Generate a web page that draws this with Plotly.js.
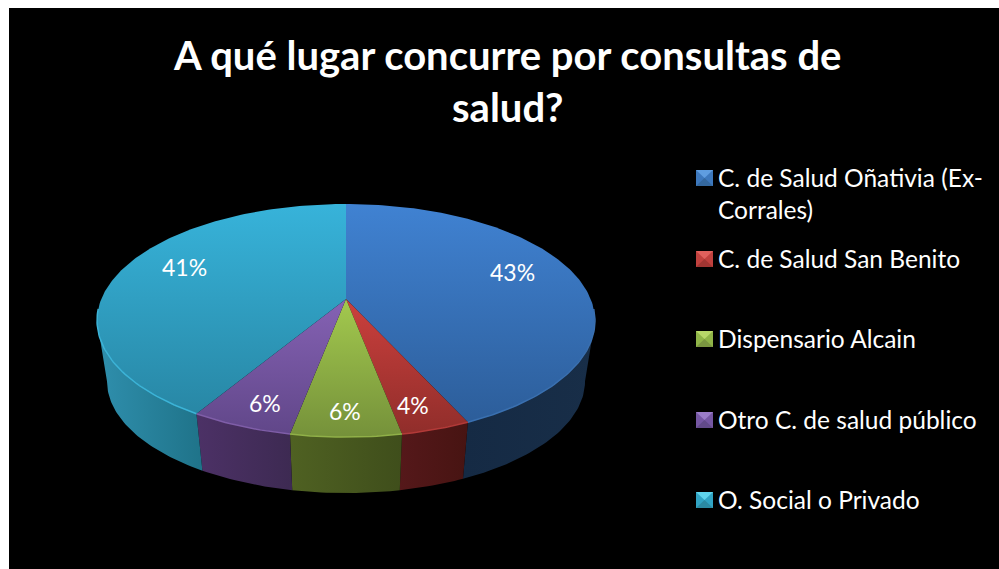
<!DOCTYPE html>
<html><head><meta charset="utf-8">
<script src="https://cdn.plot.ly/plotly-3.0.1.min.js"></script>
<style>html,body{margin:0;padding:0;background:#fff}#c{width:999px;height:569px}</style>
</head><body><div id="c"></div>
<script>
const titleLines = ["A qué lugar concurre por consultas de", "salud?"];
const categories = ["C. de Salud Oñativia (Ex-<br>Corrales)", "C. de Salud San Benito", "Dispensario Alcain", "Otro C. de salud público", "O. Social o Privado"];
const values = [43.2, 3.8, 6.0, 5.6, 41.4];

const faceLight = ["#4082d2", "#cc403d", "#a3c94e", "#8562b4", "#37b3da"];
const faceDark  = ["#2b5b96", "#8f2d2a", "#75913a", "#604688", "#26829f"];
const sideLeft  = ["#152a44", "#55181a", "#4f6122", "#4c3166", "#2f8fad"];
const sideRight = ["#182e48", "#471412", "#3f4e1b", "#3d2a52", "#1f7389"];
const rimColor  = ["#3a70b0", "#b23a38", "#90b048", "#7f5ea8", "#3cb4d8"];
const legendLight = ["#5f9de0", "#e0605c", "#b8d868", "#9a7cc8", "#5fd4ec"];
const legendMid   = ["#3d78bd", "#c0413e", "#90b548", "#7557a3", "#31a4c4"];
const legendDark  = ["#34689f", "#a03532", "#7a9640", "#624a8a", "#2b8aa3"];

// Projection of a unit disc onto the page (perspective), in page pixels.
const cx = 346, apexTop = 299, apexBottom = 360.5;
const persp = 0.1846, ax = 244.7, ay = 112.6, shrink = 0.96;
const widest = 90 + Math.asin(persp) * 180 / Math.PI;
function rim(deg, s, y0) {
  const t = deg * Math.PI / 180, u = Math.sin(t), v = Math.cos(t), w = 1 + persp * v;
  return [cx + s * ax * u / w, y0 - s * ay * v / w];
}
const total = values.reduce((a, b) => a + b, 0);
let acc = 0;
const spans = values.map(v => { const a = acc; acc += v; return [a / total * 360, acc / total * 360]; });
function arc(a, b, s, y0) {
  const n = Math.max(2, Math.ceil(Math.abs(b - a))), pts = [];
  for (let i = 0; i <= n; i++) pts.push(rim(a + (b - a) * i / n, s, y0));
  return pts;
}
const traces = [];
// side walls
spans.forEach((sp, i) => {
  const a = Math.max(sp[0], widest), b = Math.min(sp[1], 360 - widest);
  if (b <= a) return;
  const up = arc(a, b, 1, apexTop), low = arc(b, a, shrink, apexBottom);
  const pts = up.concat(low); pts.push(up[0]);
  traces.push({type: "scatter", mode: "lines", x: pts.map(p => p[0]), y: pts.map(p => p[1]),
    fill: "toself", line: {width: 0}, hoverinfo: "skip", showlegend: false,
    fillcolor: sideRight[i],
    fillgradient: {type: "horizontal", colorscale: [[0, sideLeft[i]], [1, sideRight[i]]]}});
});
// top faces
spans.forEach((sp, i) => {
  const pts = [[cx, apexTop]].concat(arc(sp[0], sp[1], 1, apexTop)); pts.push([cx, apexTop]);
  const big = values[i] > 20;
  traces.push({type: "scatter", mode: "lines", name: categories[i].replace("<br>", " "),
    x: pts.map(p => p[0]), y: pts.map(p => p[1]), fill: "toself", line: {width: 0},
    hoverinfo: "name", showlegend: false, fillcolor: faceDark[i],
    fillgradient: {type: "vertical", start: big ? 204 : 299, stop: 437,
      colorscale: [[0, faceLight[i]], [1, faceDark[i]]]}});
});
// bevel on the front rim
spans.forEach((sp, i) => {
  const a = Math.max(sp[0], 95), b = Math.min(sp[1], 265);
  const pts = arc(a, b, 1, apexTop);
  traces.push({type: "scatter", mode: "lines", x: pts.map(p => p[0]), y: pts.map(p => p[1]),
    line: {width: 1.5, color: rimColor[i]}, hoverinfo: "skip", showlegend: false});
});

const font = "Lato, sans-serif";
const labelAt = [[512, 272], [413, 405], [345, 411], [265, 403], [184, 267]];
const annotations = values.map((v, i) => ({x: labelAt[i][0], y: labelAt[i][1], xref: "x", yref: "y",
  text: Math.round(v) + "%", showarrow: false, font: {family: font, size: 23, color: "#fff"}}));

const legendY = [178, 259, 339, 420, 500];
const shapes = [];
const poly = (d, c) => shapes.push({type: "path", xref: "x", yref: "y", path: d, fillcolor: c, line: {width: 0}, layer: "above"});
categories.forEach((c, i) => {
  const y = legendY[i], x0 = 696, x1 = 713, y0 = y - 8, y1 = y + 8, mx = 704.5, my = y;
  poly(`M${x0},${y0}L${x1},${y0}L${x1},${y1}L${x0},${y1}Z`, legendMid[i]);
  poly(`M${x0},${y0}L${x1},${y0}L${mx},${my}Z`, legendLight[i]);
  poly(`M${x0},${y1}L${mx},${my}L${x1},${y1}Z`, legendDark[i]);
  annotations.push({x: 716, y: (i === 0 ? y + 16 : y) - 1, xref: "x", yref: "y", xanchor: "left", align: "left",
    text: c, showarrow: false, font: {family: font, size: 24.5, color: "#fff"}});
});
titleLines.forEach((t, i) => annotations.push({x: 507, y: 55 + i * 52, xref: "x", yref: "y", text: t, showarrow: false,
  font: {family: font, size: 40, color: "#fff", weight: 700}}));

Plotly.newPlot("c", traces, {
  width: 999, height: 569, showlegend: false,
  margin: {l: 9, r: 0, t: 8, b: 0, pad: 0},
  paper_bgcolor: "#ffffff", plot_bgcolor: "#000000",
  xaxis: {range: [9, 999], visible: false, fixedrange: true},
  yaxis: {range: [569, 8], visible: false, fixedrange: true},
  annotations, shapes
}, {displayModeBar: false, staticPlot: true});
</script></body></html>
